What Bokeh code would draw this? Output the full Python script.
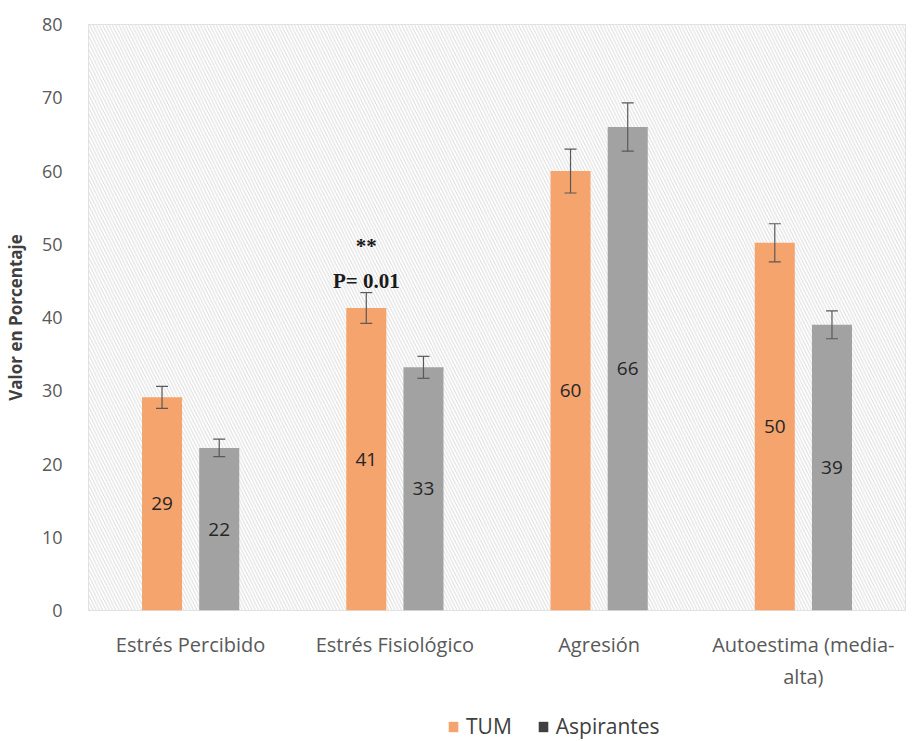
from bokeh.plotting import figure
from bokeh.layouts import column
from bokeh.models import ColumnDataSource, FixedTicker, Legend, LegendItem, Whisker, Range1d
from bokeh.core.properties import value
from bokeh.embed import file_html
from bokeh.resources import INLINE

categories = ["Estrés Percibido", "Estrés Fisiológico", "Agresión", "Autoestima (media-\nalta)"]
tum = [29.1, 41.3, 60.0, 50.2]
tum_err = [1.5, 2.1, 3.0, 2.6]
asp = [22.2, 33.2, 66.0, 39.0]
asp_err = [1.2, 1.5, 3.3, 1.9]
tum_labels = ["29", "41", "60", "50"]
asp_labels = ["22", "33", "66", "39"]
series_names = ["TUM", "Aspirantes"]
y_ticks = [0, 10, 20, 30, 40, 50, 60, 70, 80]

FONT = "Open Sans"
TUM_COLOR = "#F5A46E"
ASP_COLOR = "#A2A2A2"
ASP_LEGEND = "#404040"

p = figure(width=912, height=700, output_backend="svg", toolbar_location=None,
           x_range=Range1d(0, 4), y_range=Range1d(0, 80),
           min_border_left=88, min_border_right=7, min_border_top=24, min_border_bottom=90)
p.background_fill_color = "white"
p.border_fill_color = "white"
p.outline_line_color = "#D9D9D9"

# hatched background
p.quad(left=[0], right=[4], bottom=[0], top=[80], fill_color="white", line_color=None,
       hatch_pattern="\\", hatch_color="#DCDCDC", hatch_scale=6.5, hatch_weight=1)

xs = [i + 0.5 for i in range(len(categories))]
x_tum = [x - 0.14 for x in xs]
x_asp = [x + 0.14 for x in xs]

src_t = ColumnDataSource(dict(x=x_tum, top=tum, mid=[v / 2 for v in tum], lab=tum_labels,
                              lo=[v - e for v, e in zip(tum, tum_err)], hi=[v + e for v, e in zip(tum, tum_err)]))
src_a = ColumnDataSource(dict(x=x_asp, top=asp, mid=[v / 2 for v in asp], lab=asp_labels,
                              lo=[v - e for v, e in zip(asp, asp_err)], hi=[v + e for v, e in zip(asp, asp_err)]))

p.vbar(x="x", top="top", width=0.196, source=src_t, fill_color=TUM_COLOR, line_color=None)
p.vbar(x="x", top="top", width=0.196, source=src_a, fill_color=ASP_COLOR, line_color=None)

for src in (src_t, src_a):
    w = Whisker(base="x", lower="lo", upper="hi", source=src, line_color="#595959", line_width=1.2,
                level="annotation")
    w.upper_head.size = 12
    w.lower_head.size = 12
    w.upper_head.line_color = "#595959"
    w.lower_head.line_color = "#595959"
    w.upper_head.line_width = 1.2
    w.lower_head.line_width = 1.2
    p.add_layout(w)
    p.text(x="x", y="mid", text="lab", source=src, text_align="center", text_baseline="middle",
           text_font=value(FONT), text_font_size="19px", text_color="#262626")

# annotations
p.text(x=[x_tum[1]], y=[49.7], text=["**"], text_align="center", text_baseline="middle",
       text_font=value("Liberation Serif"), text_font_style="bold", text_font_size="21px", text_color="#1a1a1a")
p.text(x=[x_tum[1]], y=[45.0], text=["P= 0.01"], text_align="center", text_baseline="middle",
       text_font=value("Liberation Serif"), text_font_style="bold", text_font_size="21px", text_color="#1a1a1a")

# grids
p.ygrid.ticker = FixedTicker(ticks=y_ticks)
p.ygrid.grid_line_color = "#D9D9D9"
p.xgrid.ticker = FixedTicker(ticks=[1, 2, 3])
p.xgrid.grid_line_color = "#D9D9D9"

# axes
p.yaxis.ticker = FixedTicker(ticks=y_ticks)
p.yaxis.axis_line_color = None
p.yaxis.major_tick_line_color = None
p.yaxis.minor_tick_line_color = None
p.yaxis.major_label_text_font = FONT
p.yaxis.major_label_text_font_size = "18px"
p.yaxis.major_label_text_color = "#595959"
p.yaxis.major_label_standoff = 20
p.yaxis.axis_label = "Valor en Porcentaje"
p.yaxis.axis_label_text_font = FONT
p.yaxis.axis_label_text_font_style = "bold"
p.yaxis.axis_label_text_font_size = "17px"
p.yaxis.axis_label_text_color = "#404040"
p.yaxis.axis_label_standoff = 12

p.xaxis.ticker = FixedTicker(ticks=xs)
p.xaxis.major_label_overrides = {x: c for x, c in zip(xs, categories)}
p.xaxis.axis_line_color = None
p.xaxis.major_tick_line_color = None
p.xaxis.minor_tick_line_color = None
p.xaxis.major_label_text_font = FONT
p.xaxis.major_label_text_font_size = "20px"
p.xaxis.major_label_text_color = "#595959"
p.xaxis.major_label_standoff = 14

# legend strip below the chart (its frame is aligned with the chart's frame)
p2 = figure(width=912, height=41, output_backend="svg", toolbar_location=None,
            x_axis_type=None, y_axis_type=None, x_range=Range1d(0, 1), y_range=Range1d(0, 1),
            min_border=0)
p2.outline_line_color = None
p2.background_fill_color = "white"
p2.border_fill_color = "white"
p2.xgrid.visible = False
p2.ygrid.visible = False
r1 = p2.quad(left=[-3], right=[-2], bottom=[-3], top=[-2], fill_color=TUM_COLOR, line_color=None)
r2 = p2.quad(left=[-3], right=[-2], bottom=[-3], top=[-2], fill_color=ASP_LEGEND, line_color=None)
legend = Legend(items=[LegendItem(label=series_names[0], renderers=[r1]),
                       LegendItem(label=series_names[1], renderers=[r2])],
                orientation="horizontal", location=(359, 1),
                label_text_font=FONT, label_text_font_size="21px", label_text_color="#404040",
                glyph_width=12, glyph_height=13, spacing=25, label_standoff=7,
                border_line_color=None, background_fill_alpha=0, margin=0, padding=0)
p2.add_layout(legend, "center")

open("out.html", "w").write(file_html(column(p, p2, spacing=0), INLINE))
